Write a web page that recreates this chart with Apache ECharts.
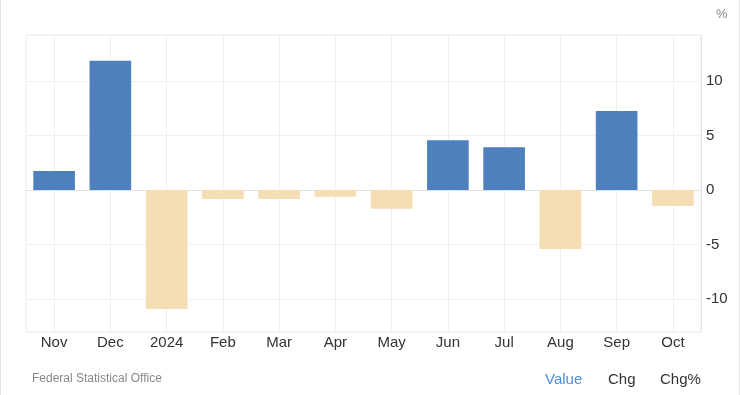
<!DOCTYPE html>
<html>
<head>
<meta charset="utf-8">
<script src="https://cdn.jsdelivr.net/npm/echarts@6/dist/echarts.min.js"></script>
<style>
html,body{margin:0;padding:0;background:#fff;}
#c{width:740px;height:395px;box-sizing:border-box;border-left:1px solid #e4e4e4;border-right:1px solid #e4e4e4;}
</style>
</head>
<body>
<div id="c"></div>
<script>
const categories = ['Nov','Dec','2024','Feb','Mar','Apr','May','Jun','Jul','Aug','Sep','Oct'];
const values = [1.75, 11.85, -10.9, -0.82, -0.82, -0.61, -1.71, 4.57, 3.93, -5.39, 7.24, -1.46];
const yMin = -13, yMax = 14.2;
const unitLabel = '%';
const sourceText = 'Federal Statistical Office';
const tabs = ['Value', 'Chg', 'Chg%'];

const posColor = '#4d80bd';
const negColor = '#f5deb3';
const font = '"Liberation Sans", Arial, sans-serif';

const chart = echarts.init(document.getElementById('c'), null, {renderer: 'canvas'});
chart.setOption({
  animation: false,
  backgroundColor: '#fff',
  grid: {left: 25, right: 38, top: 35, bottom: 63, show: true, borderColor: '#ececec', borderWidth: 1},
  xAxis: {
    type: 'category',
    data: categories,
    boundaryGap: true,
    axisLine: {show: true, lineStyle: {color: '#e3e3e3'}},
    axisTick: {show: false},
    axisLabel: {color: '#333', fontSize: 15, fontFamily: font, margin: 3},
    splitLine: {show: true, alignWithLabel: true, lineStyle: {color: '#f0f0f0'}}
  },
  yAxis: {
    type: 'value',
    position: 'right',
    min: yMin,
    max: yMax,
    splitNumber: 5,
    axisLine: {show: true, lineStyle: {color: '#e3e3e3'}},
    axisTick: {show: false},
    axisLabel: {color: '#333', fontSize: 15, fontFamily: font, margin: 5, showMinLabel: false, showMaxLabel: false,
      formatter: function (v) { return (Math.abs(v % 5) < 1e-9) ? String(v) : ''; }},
    splitLine: {show: true, lineStyle: {color: '#f0f0f0'}}
  },
  series: [{
    type: 'bar',
    data: values.map(v => ({value: v, itemStyle: {color: v >= 0 ? posColor : negColor}})),
    barCategoryGap: '26%',
    itemStyle: {borderWidth: 0}
  }],
  graphic: [
    {type: 'text', left: 715, top: 8, style: {text: unitLabel, fill: '#888', font: '13px ' + font}},
    {type: 'text', left: 31, top: 373, style: {text: sourceText, fill: '#888', font: '12px ' + font}},
    {type: 'text', left: 544, top: 372, style: {text: tabs[0], fill: '#4a90e2', font: '15px ' + font}},
    {type: 'text', left: 607, top: 372, style: {text: tabs[1], fill: '#333', font: '15px ' + font}},
    {type: 'text', left: 659, top: 372, style: {text: tabs[2], fill: '#333', font: '15px ' + font}}
  ]
});
</script>
</body>
</html>
